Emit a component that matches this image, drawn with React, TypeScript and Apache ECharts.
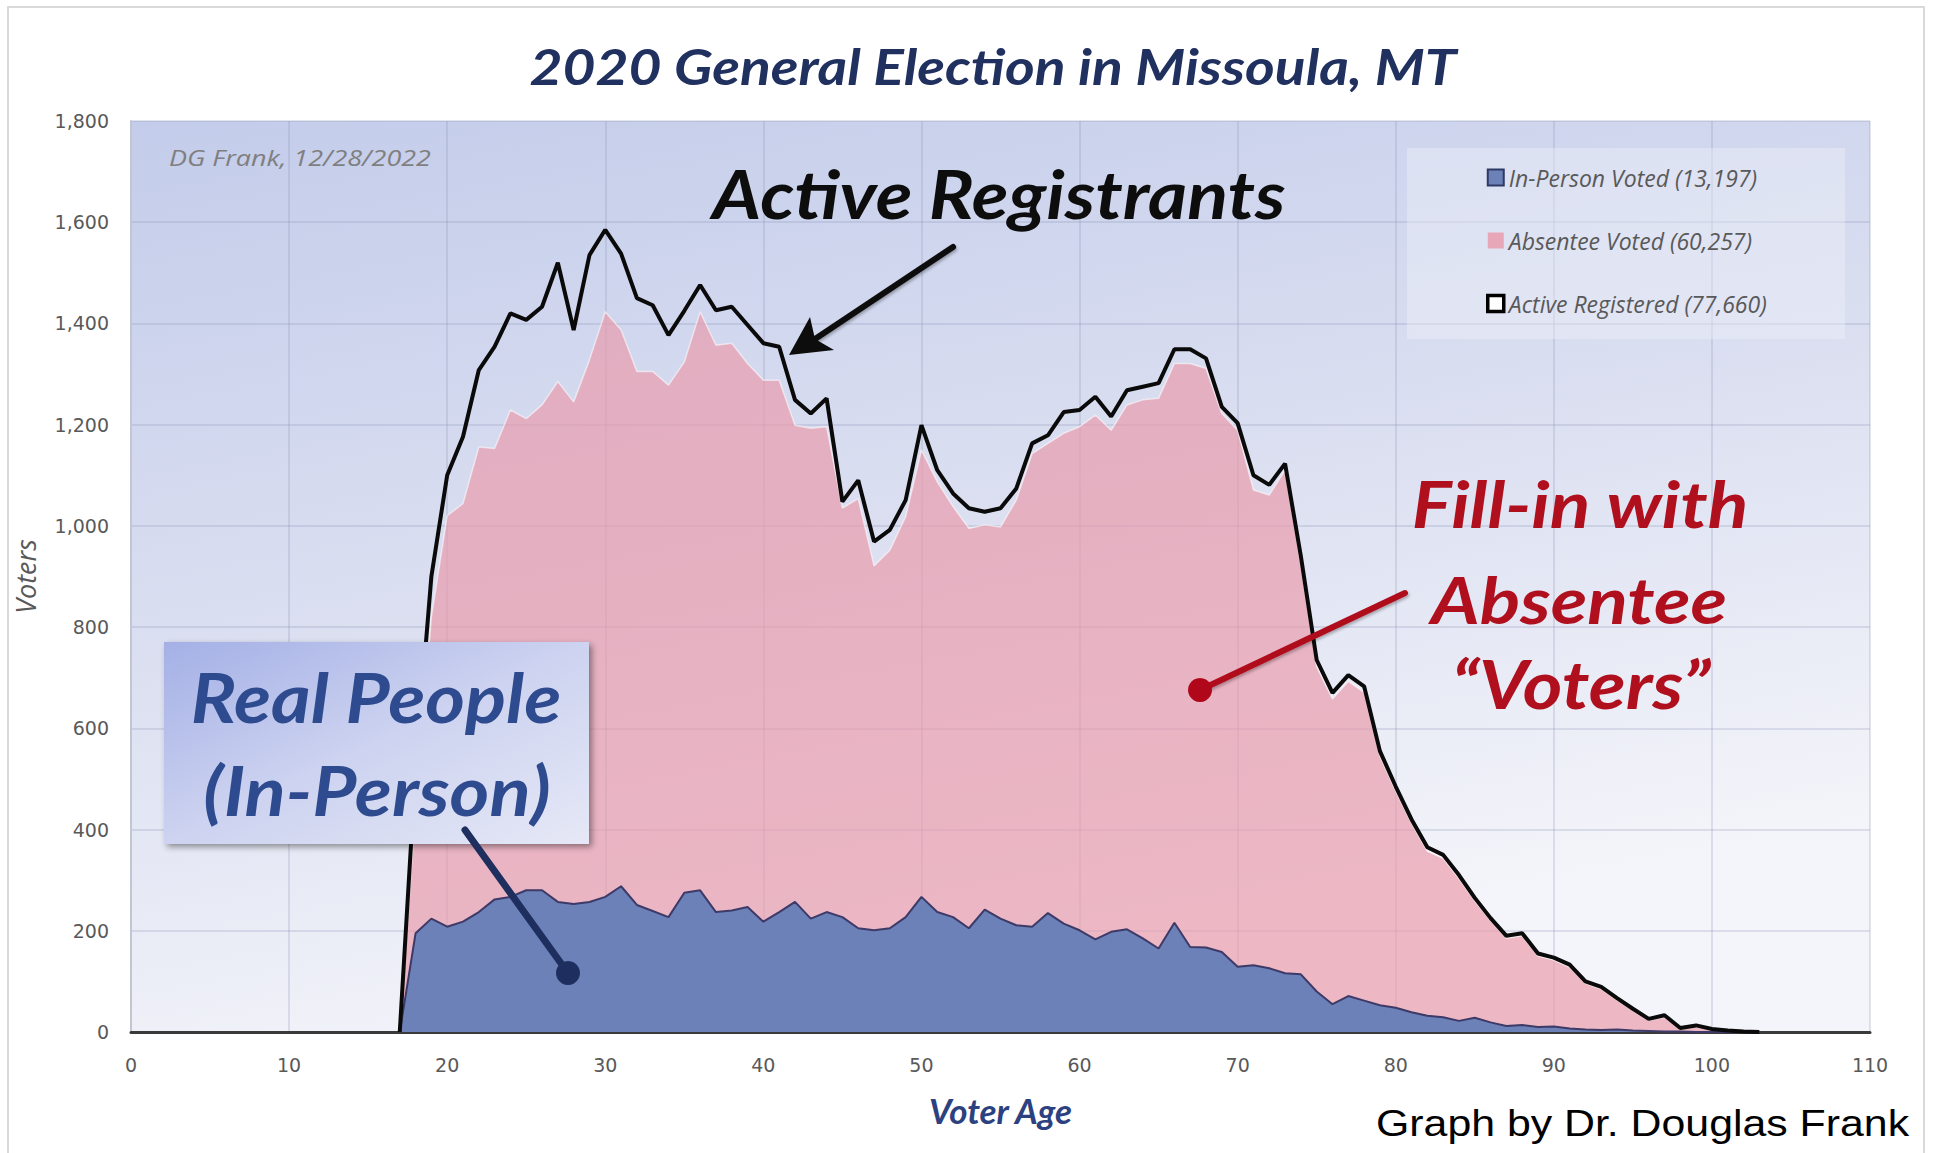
import React, { useEffect, useRef } from "react";
import * as echarts from "echarts";

const ages = [17, 18, 19, 20, 21, 22, 23, 24, 25, 26, 27, 28, 29, 30, 31, 32, 33, 34, 35, 36, 37, 38, 39, 40, 41, 42, 43, 44, 45, 46, 47, 48, 49, 50, 51, 52, 53, 54, 55, 56, 57, 58, 59, 60, 61, 62, 63, 64, 65, 66, 67, 68, 69, 70, 71, 72, 73, 74, 75, 76, 77, 78, 79, 80, 81, 82, 83, 84, 85, 86, 87, 88, 89, 90, 91, 92, 93, 94, 95, 96, 97, 98, 99, 100, 101, 102, 103];

const inPersonVoted = [
  0, 195, 224, 208, 218, 237, 262, 267, 280, 280,
  257, 253, 257, 267, 288, 251, 239, 227, 275, 280,
  237, 240, 247, 218, 237, 257, 224, 237, 227, 205,
  201, 205, 227, 267, 237, 227, 205, 242, 224, 211,
  208, 235, 214, 201, 183, 198, 203, 185, 165, 216,
  168, 167, 158, 129, 132, 126, 116, 114, 80, 55,
  71, 62, 53, 48, 39, 32, 29, 22, 28, 19,
  12, 14, 10, 11, 7, 5, 4, 5, 3, 2,
  1, 1, 0, 0, 0, 0, 0,
];

const absenteeVoted = [
  0, 245, 596, 812, 826, 919, 891, 962, 932, 959,
  1028, 992, 1071, 1156, 1099, 1054, 1066, 1051, 1049, 1143,
  1120, 1121, 1074, 1070, 1051, 942, 969, 959, 808, 849,
  720, 747, 791, 883, 850, 811, 790, 760, 774, 840,
  935, 928, 969, 995, 1036, 991, 1036, 1064, 1087, 1105,
  1153, 1144, 1064, 1060, 939, 935, 994, 811, 642, 603,
  622, 609, 492, 428, 373, 325, 314, 281, 231, 201,
  173, 176, 140, 131, 121, 91, 81, 58, 39, 21,
  28, 5, 10, 4, 2, 1, 0,
];

const activeRegistered = [
  0, 520, 900, 1100, 1176, 1308, 1354, 1420, 1407, 1433,
  1520, 1387, 1535, 1585, 1538, 1450, 1436, 1377, 1425, 1476,
  1426, 1433, 1397, 1361, 1354, 1249, 1222, 1252, 1048, 1090,
  969, 992, 1051, 1199, 1110, 1064, 1035, 1028, 1035, 1074,
  1163, 1179, 1225, 1229, 1255, 1216, 1268, 1275, 1282, 1349,
  1349, 1331, 1235, 1203, 1100, 1081, 1123, 940, 735, 670,
  705, 683, 555, 485, 420, 365, 350, 310, 265, 225,
  190, 195, 155, 147, 133, 100, 89, 67, 46, 26,
  33, 8, 13, 6, 3, 1, 0,
];

const seriesNames = [
  "In-Person Voted (13,197)",
  "Absentee Voted (60,257)",
  "Active Registered (77,660)",
];

const titleText = "2020 General Election in Missoula, MT";
const creditText = "DG Frank, 12/28/2022";
const footerText = "Graph by Dr. Douglas Frank";

const HEAD = "Lato";

function bigText(text: string, x: number, y: number, size: number, color: string, sx: number, shadow?: boolean) {
  const style: any = {
    text,
    x: 0,
    y: 0,
    fill: color,
    fontFamily: HEAD,
    fontWeight: "bold",
    fontStyle: "italic",
    fontSize: size,
    align: "center",
    verticalAlign: "middle",
    textAlign: "center",
    textVerticalAlign: "middle",
  };
  if (shadow) {
    style.shadowColor = "rgba(0,0,0,0.35)";
    style.shadowBlur = 4;
    style.shadowOffsetX = 2;
    style.shadowOffsetY = 3;
  }
  return { type: "text", x, y, scaleX: sx, scaleY: 1, z: 20, silent: true, style };
}

export default function App() {
  const ref = useRef<HTMLDivElement>(null);

  useEffect(() => {
    const chart = echarts.init(ref.current!, null, { renderer: "svg" });
    const pair = (vals: number[]) => ages.map((a, i) => [a, vals[i]]);
    // total voters (in-person + absentee) gives the top of the pink area
    const totalVoted = ages.map((a, i) => [a, inPersonVoted[i] + absenteeVoted[i]]);

    chart.setOption({
      animation: false,
      backgroundColor: "#ffffff",
      grid: {
        left: 131,
        right: 63,
        top: 121,
        bottom: 121,
        show: true,
        borderWidth: 0,
        backgroundColor: new echarts.graphic.LinearGradient(0, 0, 0.35, 1, [
          { offset: 0, color: "#c3ccea" },
          { offset: 0.55, color: "#dce0f1" },
          { offset: 1, color: "#f4f5fa" },
        ]),
      },
      xAxis: {
        type: "value",
        min: 0,
        max: 110,
        interval: 10,
        name: "Voter Age",
        nameLocation: "middle",
        nameGap: 60,
        nameTextStyle: {
          fontFamily: HEAD,
          fontWeight: "bold",
          fontStyle: "italic",
          fontSize: 35,
          color: "#2c4180",
        },
        axisLine: { show: true, lineStyle: { color: "#3a3a3a", width: 3 } },
        axisTick: { show: false },
        axisLabel: { color: "#595959", fontSize: 19, fontFamily: "DejaVu Sans", margin: 23 },
        splitLine: { show: true, lineStyle: { color: "rgba(140,146,180,0.32)", width: 1.5 } },
      },
      yAxis: {
        type: "value",
        min: 0,
        max: 1800,
        interval: 200,
        name: "Voters",
        nameLocation: "middle",
        nameGap: 92,
        nameRotate: 90,
        nameTextStyle: {
          fontFamily: "Open Sans",
          fontStyle: "italic",
          fontSize: 27,
          color: "#595959",
        },
        axisLine: { show: true, lineStyle: { color: "#c2c6d2", width: 2 } },
        axisTick: { show: false },
        axisLabel: {
          color: "#595959",
          fontSize: 19,
          fontFamily: "DejaVu Sans",
          margin: 22,
          formatter: (v: number) => v.toLocaleString("en-US"),
        },
        splitLine: { show: true, lineStyle: { color: "rgba(140,146,180,0.32)", width: 1.5 } },
      },
      legend: {
        orient: "vertical",
        left: 1486,
        top: 166,
        padding: 0,
        itemWidth: 16,
        itemHeight: 16,
        itemGap: 40,
        selectedMode: false,
        textStyle: {
          fontFamily: "Open Sans",
          fontStyle: "italic",
          fontSize: 23,
          color: "#595959",
          lineHeight: 20,
        },
        data: [
          { name: seriesNames[0], icon: "rect", itemStyle: { color: "#6b81b7", borderColor: "#2e3a66", borderWidth: 2 } },
          { name: seriesNames[1], icon: "rect", itemStyle: { color: "#e8a6b9", borderWidth: 0 } },
          { name: seriesNames[2], icon: "rect", itemStyle: { color: "#ffffff", borderColor: "#000000", borderWidth: 3.5 } },
        ],
      },
      series: [
        {
          name: seriesNames[1],
          type: "line",
          data: totalVoted,
          symbol: "none",
          z: 2,
          silent: true,
          lineStyle: { color: "rgba(255,255,255,0.55)", width: 1.5 },
          itemStyle: { color: "#e8a6b9" },
          areaStyle: { color: "rgba(234,152,169,0.66)", opacity: 1 },
        },
        {
          name: seriesNames[0],
          type: "line",
          data: pair(inPersonVoted),
          symbol: "none",
          z: 3,
          silent: true,
          lineStyle: { color: "#3d3a68", width: 2 },
          itemStyle: { color: "#6b81b7" },
          areaStyle: { color: "#6b81b7", opacity: 1 },
        },
        {
          name: seriesNames[2],
          type: "line",
          data: pair(activeRegistered),
          symbol: "none",
          z: 4,
          silent: true,
          lineStyle: { color: "#0a0a0a", width: 4 },
          itemStyle: { color: "#ffffff", borderColor: "#000000" },
        },
      ],
      graphic: [
        {
          type: "rect",
          z: -1,
          silent: true,
          shape: { x: 8, y: 7, width: 1916, height: 1170 },
          style: { fill: "none", stroke: "#d9d9d9", lineWidth: 2 },
        },
        {
          type: "rect",
          z: 1,
          silent: true,
          shape: { x: 1407, y: 148, width: 438, height: 191 },
          style: { fill: "rgba(240,242,250,0.4)" },
        },
        bigText(titleText, 993, 66, 49, "#20305f", 1.162),
        {
          type: "text",
          x: 169,
          y: 158,
          scaleX: 1.225,
          z: 20,
          silent: true,
          style: {
            text: creditText,
            x: 0,
            y: 0,
            fill: "#7f7f7f",
            fontFamily: "Open Sans",
            fontStyle: "italic",
            fontSize: 22,
            align: "left",
            verticalAlign: "middle",
            textAlign: "left",
            textVerticalAlign: "middle",
          },
        },
        bigText("Active Registrants", 999, 193, 67, "#0d0d0d", 1.125),
        {
          type: "line",
          z: 20,
          silent: true,
          shape: { x1: 953, y1: 247, x2: 815, y2: 339 },
          style: { stroke: "#0d0d0d", lineWidth: 6, lineCap: "round", shadowColor: "rgba(0,0,0,0.3)", shadowBlur: 3, shadowOffsetX: 1, shadowOffsetY: 2 },
        },
        {
          type: "polygon",
          z: 20,
          silent: true,
          shape: { points: [[789, 355], [810, 317], [815, 339], [834, 350]] },
          style: { fill: "#0d0d0d" },
        },
        bigText("Fill-in with", 1580, 502, 66, "#b0101e", 1.137, true),
        bigText("Absentee", 1579, 598, 66, "#b0101e", 1.137, true),
        bigText("\u201cVoters\u201d", 1581, 683, 66, "#b0101e", 1.15, true),
        {
          type: "line",
          z: 20,
          silent: true,
          shape: { x1: 1405, y1: 593, x2: 1200, y2: 690 },
          style: { stroke: "#b0081a", lineWidth: 6, lineCap: "round", shadowColor: "rgba(0,0,0,0.3)", shadowBlur: 3, shadowOffsetX: 1, shadowOffsetY: 2 },
        },
        {
          type: "circle",
          z: 20,
          silent: true,
          shape: { cx: 1200, cy: 690, r: 12 },
          style: { fill: "#b0081a" },
        },
        {
          type: "rect",
          z: 18,
          silent: true,
          shape: { x: 164, y: 642, width: 425, height: 202 },
          style: {
            fill: new echarts.graphic.LinearGradient(0, 0, 1, 1, [
              { offset: 0, color: "#a4b0e6" },
              { offset: 0.5, color: "#cdd3f0" },
              { offset: 1, color: "#e6e8f6" },
            ]),
            shadowColor: "rgba(0,0,0,0.4)",
            shadowBlur: 6,
            shadowOffsetX: 3,
            shadowOffsetY: 3,
          },
        },
        bigText("Real People", 376, 697, 68, "#2f4b8f", 1.12),
        bigText("(In-Person)", 377, 790, 68, "#2f4b8f", 1.12),
        {
          type: "line",
          z: 21,
          silent: true,
          shape: { x1: 465, y1: 830, x2: 568, y2: 973 },
          style: { stroke: "#1e2e5e", lineWidth: 7, lineCap: "round" },
        },
        {
          type: "circle",
          z: 21,
          silent: true,
          shape: { cx: 568, cy: 973, r: 12 },
          style: { fill: "#1e2e5e" },
        },
        {
          type: "text",
          x: 1376,
          y: 1123,
          scaleX: 1.19,
          z: 20,
          silent: true,
          style: {
            text: footerText,
            x: 0,
            y: 0,
            fill: "#000000",
            fontFamily: "Liberation Sans",
            fontSize: 36,
            align: "left",
            verticalAlign: "middle",
            textAlign: "left",
            textVerticalAlign: "middle",
          },
        },
      ],
    });

    return () => chart.dispose();
  }, []);

  return (
    <div
      ref={ref}
      style={{ position: "fixed", left: 0, top: 0, width: 1933, height: 1153, background: "#ffffff" }}
    />
  );
}
